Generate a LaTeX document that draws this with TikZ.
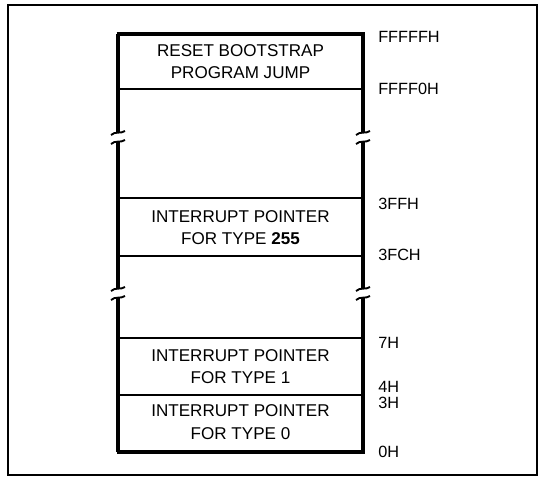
\documentclass[tikz,border=0pt]{standalone}
\usepackage{fontspec}
\setmainfont{Liberation Sans}
\begin{document}
\begin{tikzpicture}[x=0.75pt,y=-0.75pt,
  boxtext/.style={align=center,inner sep=0pt,font={\fontsize{12.8}{17}\selectfont}},
  addr/.style={anchor=west,inner sep=0pt,font={\fontsize{12.2}{14}\selectfont}},
  side/.style={line width=3pt},
  divider/.style={line width=1.1pt},
  brk/.style={line width=1.4pt}]
\useasboundingbox (0,0) rectangle (539,478);
% outer frame
\draw[line width=1.4pt] (8,5) rectangle (537,475);
% column sides (broken)
\foreach \x in {118,363}{
  \draw[side] (\x,34) -- (\x,133);
  \draw[side] (\x,142) -- (\x,289);
  \draw[side] (\x,298) -- (\x,452);
  \foreach \y in {133,289}{
    \draw[brk] (\x-7,\y+2) .. controls (\x-3,\y-2) and (\x+3,\y+1) .. (\x+7,\y-2);
    \draw[brk] (\x-7,\y+11) .. controls (\x-3,\y+7) and (\x+3,\y+10) .. (\x+7,\y+7);
  }
}
% top and bottom
\draw[line width=2.4pt] (116.5,34) -- (364.5,34);
\draw[line width=3pt] (116.5,452) -- (364.5,452);
% dividers
\draw[divider] (118,89) -- (363,89);
\draw[divider] (118,198) -- (363,198);
\draw[divider] (118,256) -- (363,256);
\draw[divider] (118,338) -- (363,338);
\draw[divider] (118,395) -- (363,395);
% box texts
\node[boxtext] (reset) at (240.5,61.5) {RESET BOOTSTRAP\\PROGRAM JUMP};
\node[boxtext] (t255) at (240.5,227.5) {INTERRUPT POINTER\\FOR TYPE \textbf{255}};
\node[boxtext] (t1) at (240.5,366.5) {INTERRUPT POINTER\\FOR TYPE 1};
\node[boxtext] (t0) at (240.5,422) {INTERRUPT POINTER\\FOR TYPE 0};
% addresses
\node[addr] (a1) at (378,37) {FFFFFH};
\node[addr] (a2) at (378,89) {FFFF0H};
\node[addr] (a3) at (378,204) {3FFH};
\node[addr] (a4) at (378,255) {3FCH};
\node[addr] (a5) at (378,343) {7H};
\node[addr] (a6) at (378,387) {4H};
\node[addr] (a7) at (378,403) {3H};
\node[addr] (a8) at (378,452) {0H};
\end{tikzpicture}
\end{document}
